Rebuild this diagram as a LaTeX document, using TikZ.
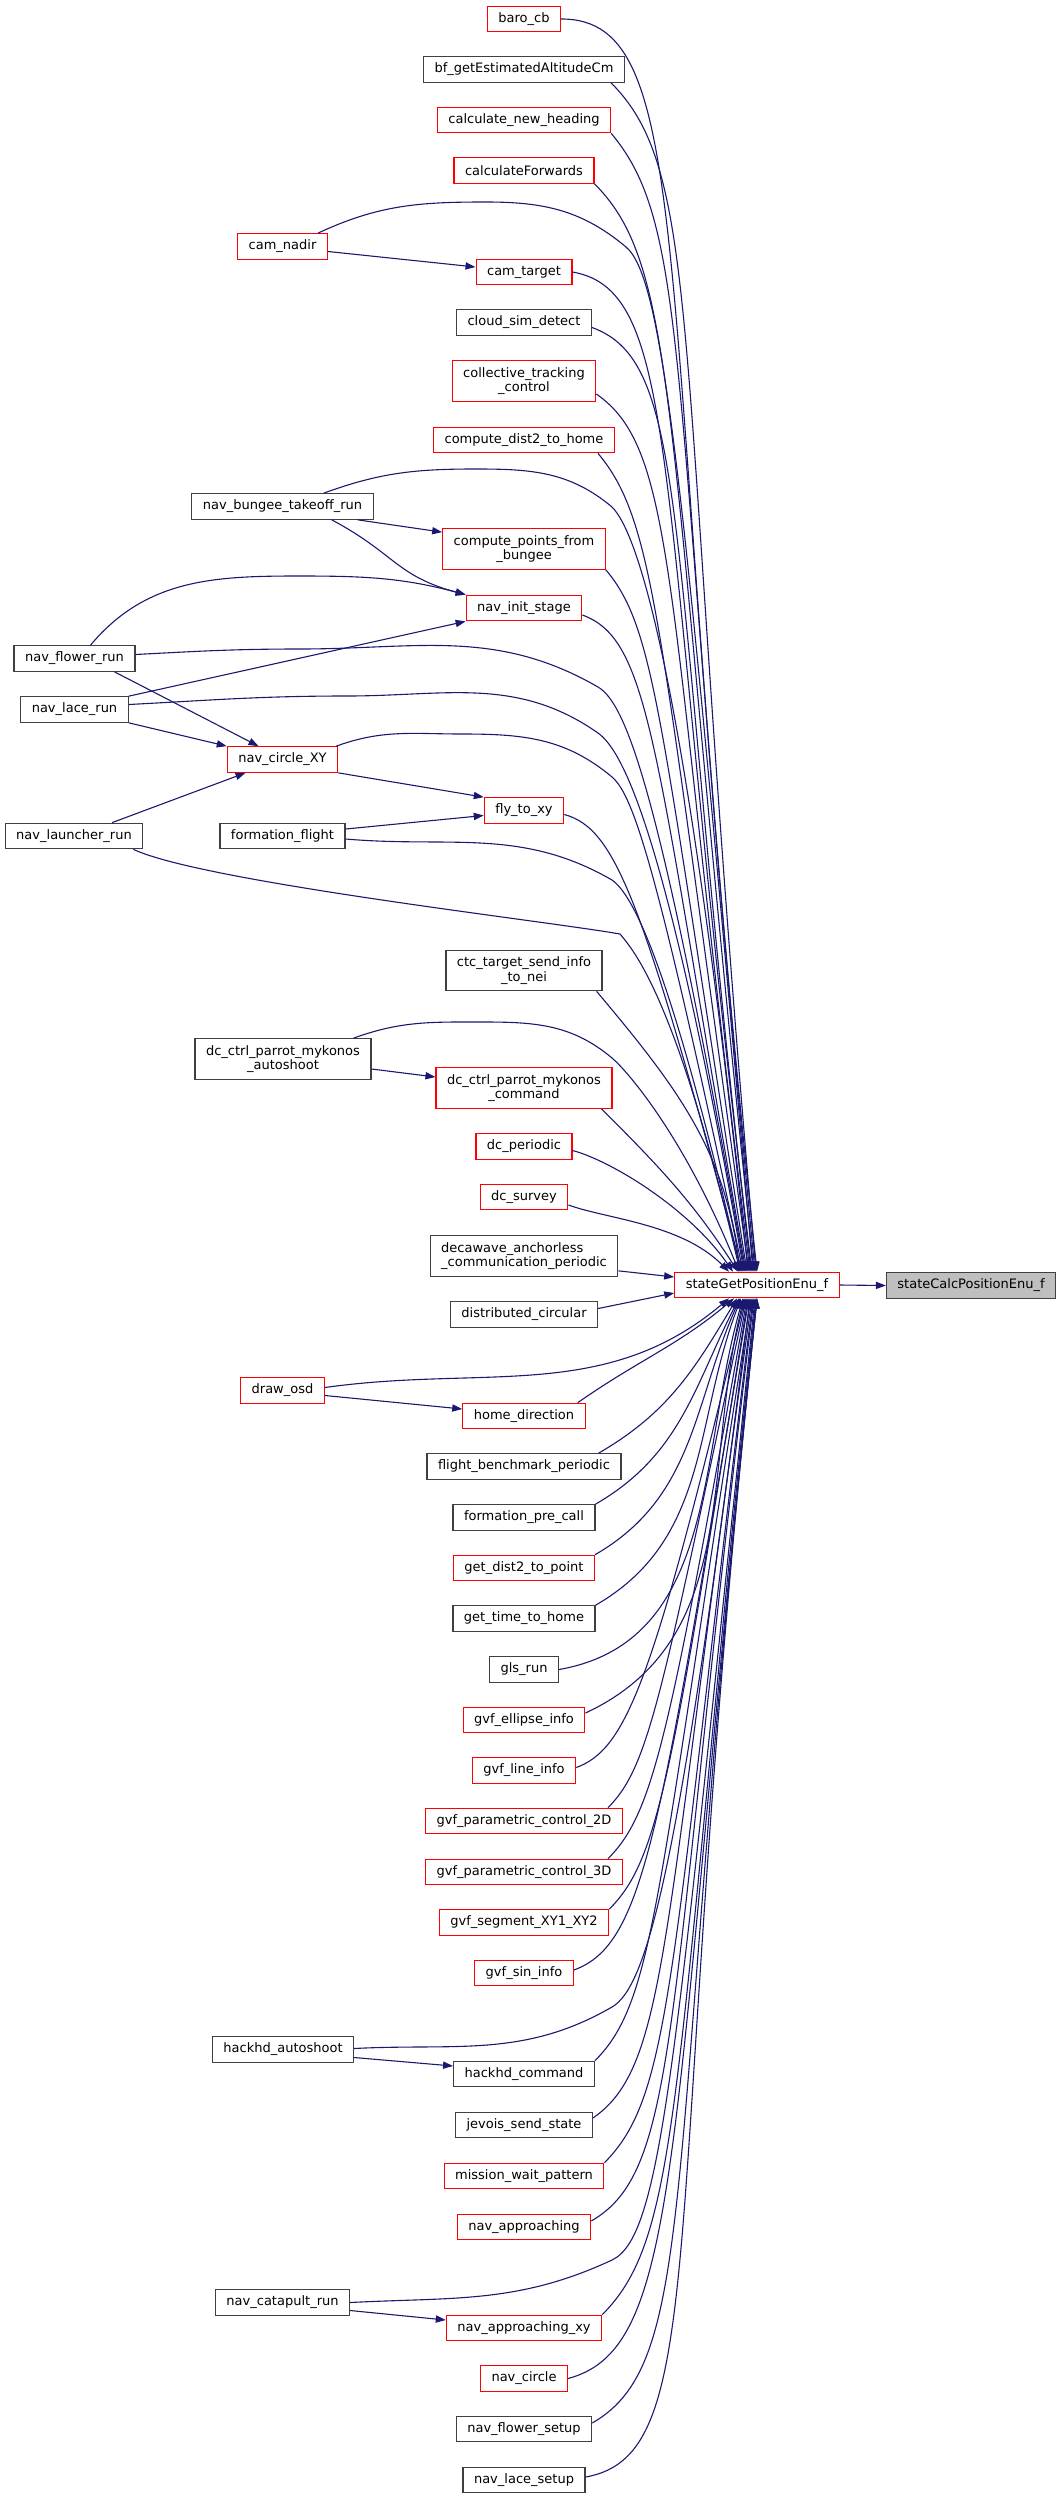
\documentclass[tikz,border=0pt]{standalone}
\usepackage{fontspec}
\setmainfont{DejaVu Sans}
\usepackage{tikz}
\usetikzlibrary{positioning,arrows.meta,calc,shapes}
\definecolor{nodered}{HTML}{FF0000}
\definecolor{nodegrey}{HTML}{404040}
\definecolor{focusgrey}{HTML}{BFBFBF}
\definecolor{edgeblue}{HTML}{191970}
\newcommand{\fnfont}{\fontsize{6.5pt}{7.2pt}\selectfont}
\tikzset{
    fn/.style = {
        draw=nodegrey,
        shape=rectangle,
        fill=white,
        minimum height=12.75pt,
        inner xsep=5.5pt,
        inner ysep=2pt,
        line width=0.6pt,
        font=\fnfont
    },
    trunc/.style = {
        fn,
        draw=nodered
    },
    focus/.style = {
        fn,
        fill=focusgrey
    },
    twoline/.style = {
        minimum height=20.25pt,
        align=center
    },
    call/.style = {
        edgeblue,
        line width=0.55pt,
        -{Triangle[length=5pt,width=3.6pt]}
    },
    longcurve/.style = {
        out looseness=0.28,
        in looseness=2
    },
}

\begin{document}
\begin{tikzpicture}[x=0.5pt,y=-0.5pt]
            \useasboundingbox (0,0) rectangle (1061,2499);

            \node[trunc] (baro) at (524,19) {baro\_cb};
            \node[fn] (bfalt) at (524,69.5) {bf\_getEstimatedAltitudeCm};
            \node[trunc] (calcheading) at (524,120) {calculate\_new\_heading};
            \node[trunc] (calcfwd) at (524,170.5) {calculateForwards};
            \node[trunc] (camnadir) at (282.5,246.5) {cam\_nadir};
            \node[trunc] (camtarget) at (524,272) {cam\_target};
            \node[fn] (cloud) at (524,322.5) {cloud\_sim\_detect};
            \node[trunc, twoline] (collective) at (524,381) {collective\_tracking\\\_control};
            \node[trunc] (dist2home) at (524,440) {compute\_dist2\_to\_home};
            \node[fn] (bungeerun) at (282.5,506.5) {nav\_bungee\_takeoff\_run};
            \node[trunc, twoline] (bungeepts) at (524,549) {compute\_points\_from\\\_bungee};
            \node[trunc] (initstage) at (524,608) {nav\_init\_stage};
            \node[fn] (flowerrun) at (74.5,658.5) {nav\_flower\_run};
            \node[fn] (lacerun) at (74.5,709.5) {nav\_lace\_run};
            \node[trunc] (circlexy) at (282.5,759.5) {nav\_circle\_XY};
            \node[trunc] (flytoxy) at (524,810.5) {fly\_to\_xy};
            \node[fn] (launcherrun) at (74,836) {nav\_launcher\_run};
            \node[fn] (formflight) at (282.5,836) {formation\_flight};
            \node[fn, twoline] (ctcsend) at (524,970.5) {ctc\_target\_send\_info\\\_to\_nei};
            \node[fn, twoline] (mykonosshoot) at (283,1059) {dc\_ctrl\_parrot\_mykonos\\\_autoshoot};
            \node[trunc, twoline] (mykonoscmd) at (524,1088) {dc\_ctrl\_parrot\_mykonos\\\_command};
            \node[trunc] (dcperiodic) at (524,1146.5) {dc\_periodic};
            \node[trunc] (dcsurvey) at (524,1197) {dc\_survey};
            \node[fn, twoline, align=left] (decawave) at (524,1256) {decawave\_anchorless\\\_communication\_periodic};
            \node[trunc] (sgp) at (757,1285) {stateGetPositionEnu\_f};
            \node[focus] (scp) at (971,1285.5) {stateCalcPositionEnu\_f};
            \node[fn] (distcirc) at (524,1314.5) {distributed\_circular};
            \node[trunc] (drawosd) at (282.5,1390.5) {draw\_osd};
            \node[trunc] (homedir) at (524,1416) {home\_direction};
            \node[fn] (benchmark) at (524,1466.5) {flight\_benchmark\_periodic};
            \node[fn] (formprecall) at (524,1517.5) {formation\_pre\_call};
            \node[trunc] (dist2point) at (524,1568) {get\_dist2\_to\_point};
            \node[fn] (timehome) at (524,1618.5) {get\_time\_to\_home};
            \node[fn] (glsrun) at (524,1669.5) {gls\_run};
            \node[trunc] (gvfellipse) at (524,1720) {gvf\_ellipse\_info};
            \node[trunc] (gvfline) at (524,1770.5) {gvf\_line\_info};
            \node[trunc] (gvftwod) at (524,1821) {gvf\_parametric\_control\_2D};
            \node[trunc] (gvfthreed) at (524,1872) {gvf\_parametric\_control\_3D};
            \node[trunc] (gvfsegment) at (524,1922.5) {gvf\_segment\_XY1\_XY2};
            \node[trunc] (gvfsin) at (524,1973) {gvf\_sin\_info};
            \node[fn] (hackshoot) at (283,2049.5) {hackhd\_autoshoot};
            \node[fn] (hackcmd) at (524,2074) {hackhd\_command};
            \node[fn] (jevois) at (524,2125) {jevois\_send\_state};
            \node[trunc] (waitpattern) at (524,2176) {mission\_wait\_pattern};
            \node[trunc] (approach) at (524,2227) {nav\_approaching};
            \node[fn] (catapult) at (282.5,2302.5) {nav\_catapult\_run};
            \node[trunc] (approachxy) at (524,2328) {nav\_approaching\_xy};
            \node[trunc] (navcircle) at (524,2378.5) {nav\_circle};
            \node[fn] (flowersetup) at (524,2429) {nav\_flower\_setup};
            \node[fn] (lacesetup) at (524,2480) {nav\_lace\_setup};

            \path[draw, call] (baro.east) to[out=0, in=96, longcurve] (sgp.north);
            \path[draw, call] ([xshift=-7pt]bfalt.south east) to[out=-45, in=95, longcurve] ([xshift=-0.5pt]sgp.north);
            \path[draw, call] (calcheading.south east) to[out=-50, in=95.5, longcurve] ([xshift=-1pt]sgp.north);
            \path[draw, call] (calcfwd.south east) to[out=-45, in=96, longcurve] ([xshift=-1.5pt]sgp.north);
            \path[draw, call] ([xshift=-5pt]camnadir.north east) to[out=25, in=180] (486,202) to[out=0, in=140] (626,247) to[out=-40, in=95, out looseness=0.12, in looseness=2] ([xshift=-2pt]sgp.north);
            \path[draw, call] (camtarget.east) to[out=-10, in=97, longcurve] ([xshift=-2.5pt]sgp.north);
            \path[draw, call] ([yshift=-2.5pt]cloud.east) to[out=-20, in=96.5, longcurve] ([xshift=-3pt]sgp.north);
            \path[draw, call] ([yshift=-6.5pt]collective.east) to[out=-35, in=97, longcurve] ([xshift=-3.5pt]sgp.north);
            \path[draw, call] ([xshift=-8.5pt]dist2home.south east) to[out=-50, in=98, longcurve] ([xshift=-4pt]sgp.north);
            \path[draw, call] ([xshift=-25pt]bungeerun.north east) to[out=20, in=180] (476,469) to[out=0, in=140] (612,507) to[out=-45, in=96, out looseness=0.12, in looseness=2] ([xshift=-4.5pt]sgp.north);
            \path[draw, call] (bungeepts.south east) to[out=-50, in=99, longcurve] ([xshift=-5pt]sgp.north);
            \path[draw, call] ([yshift=-3.5pt]initstage.east) to[out=-20, in=100, longcurve] ([xshift=-5.5pt]sgp.north);
            \path[draw, call] ([yshift=2pt]flowerrun.east) to[out=3, in=180] (300,649) to[out=0, in=150] (598,687) to[out=-30, in=100, out looseness=0.15, in looseness=2] ([xshift=-6pt]sgp.north);
            \path[draw, call] ([yshift=2.5pt]lacerun.east) to[out=3, in=180] (347,696) to[out=0, in=145] (598,733) to[out=-35, in=100, out looseness=0.15, in looseness=2] ([xshift=-6.5pt]sgp.north);
            \path[draw, call] ([xshift=-1pt]circlexy.north east) to[out=20, in=180] (462,734) to[out=0, in=140] (612,777) to[out=-40, in=102, out looseness=0.15, in looseness=2] ([xshift=-7pt]sgp.north);
            \path[draw, call] ([yshift=-2pt]flytoxy.east) to[out=-15, in=105, longcurve] ([xshift=-7.5pt]sgp.north);
            \path[draw, call] ([yshift=-1.5pt]formflight.east) to[out=-5, in=150] (612,880) to[out=-35, in=103, out looseness=0.15, in looseness=2] ([xshift=-8pt]sgp.north);
            \path[draw, call] ([xshift=-5pt]launcherrun.south east) to[out=-25, in=170, looseness=0.4] (620,934) to[out=-50, in=103, out looseness=0.15, in looseness=2] ([xshift=-8.5pt]sgp.north);
            \path[draw, call] ([xshift=-3pt]ctcsend.south east) to[out=-50, in=97] ([xshift=-8.5pt]sgp.north);
            \path[draw, call] ([xshift=-9pt]mykonosshoot.north east) to[out=20, in=180] (483,1022) to[out=0, in=140] (612,1058) to[out=-40, in=112, out looseness=0.2, in looseness=1.5] ([xshift=-9pt]sgp.north);
            \path[draw, call] ([xshift=-5.5pt]mykonoscmd.south east) to[out=-45, in=123] ([xshift=-9.5pt]sgp.north);
            \path[draw, call] ([yshift=-2pt]dcperiodic.east) to[out=-15, in=125, out looseness=0.5] ([xshift=-12pt]sgp.north);
            \path[draw, call] ([yshift=-4pt]dcsurvey.east) to[out=-20, in=135, out looseness=0.6] ([xshift=-14pt]sgp.north);
            \path[draw, call] ([yshift=3pt]decawave.south east) -- ([yshift=4pt]sgp.west);

            \path[draw, call] ([yshift=3pt]distcirc.east) -- ([yshift=-4pt]sgp.west);
            \path[draw, call] ([yshift=1.5pt]drawosd.east) to[out=8, in=220] ([xshift=-14pt]sgp.south);
            \path[draw, call] ([xshift=-4pt]homedir.north east) to[out=35, in=220] ([xshift=-11.5pt]sgp.south);
            \path[draw, call] ([xshift=-11.5pt]benchmark.north east) to[out=30, in=239] ([xshift=-10pt]sgp.south);
            \path[draw, call] (formprecall.north east) to[out=30, in=243] ([xshift=-9pt]sgp.south);
            \path[draw, call] (dist2point.north east) to[out=30, in=246] ([xshift=-8.5pt]sgp.south);
            \path[draw, call] (timehome.north east) to[out=30, in=249] ([xshift=-8pt]sgp.south);
            \path[draw, call] (glsrun.east) to[out=10, in=254] ([xshift=-7pt]sgp.south);
            \path[draw, call] ([yshift=3.5pt]gvfellipse.east) to[out=25, in=256] ([xshift=-6.5pt]sgp.south);
            \path[draw, call] ([yshift=1.5pt]gvfline.east) to[out=20, in=256.5, longcurve] ([xshift=-6pt]sgp.south);
            \path[draw, call] ([xshift=-7.5pt]gvftwod.north east) to[out=45, in=258, longcurve] ([xshift=-5.5pt]sgp.south);
            \path[draw, call] ([xshift=-7.5pt]gvfthreed.north east) to[out=45, in=260, longcurve] ([xshift=-5pt]sgp.south);
            \path[draw, call] (gvfsegment.north east) to[out=45, in=261, longcurve] ([xshift=-4.5pt]sgp.south);
            \path[draw, call] ([yshift=1.5pt]gvfsin.east) to[out=20, in=260.5, longcurve] ([xshift=-4pt]sgp.south);
            \path[draw, call] ([yshift=0.5pt]hackshoot.east) to[out=3, in=210] (612,2007) to[out=30, in=263, out looseness=0.15, in looseness=2] ([xshift=-3.5pt]sgp.south);
            \path[draw, call] (hackcmd.north east) to[out=45, in=261, longcurve] ([xshift=-3pt]sgp.south);
            \path[draw, call] ([yshift=3.5pt]jevois.east) to[out=35, in=262, longcurve] ([xshift=-2.5pt]sgp.south);
            \path[draw, call] (waitpattern.north east) to[out=45, in=263, longcurve] ([xshift=-2pt]sgp.south);
            \path[draw, call] ([yshift=3pt]approach.east) to[out=30, in=263, longcurve] ([xshift=-1.5pt]sgp.south);
            \path[draw, call] (catapult.east) to[out=3, in=205] (612,2260) to[out=25, in=264, out looseness=0.15, in looseness=2] ([xshift=-1pt]sgp.south);
            \path[draw, call] (approachxy.north east) to[out=45, in=264, longcurve] ([xshift=-0.5pt]sgp.south);
            \path[draw, call] (navcircle.east) to[out=15, in=264, longcurve] (sgp.south);
            \path[draw, call] ([yshift=3pt]flowersetup.east) to[out=30, in=264, longcurve] (sgp.south);
            \path[draw, call] ([yshift=1.5pt]lacesetup.east) to[out=10, in=264, longcurve] (sgp.south);

            \path[draw, call] ([yshift=-2.5pt]camnadir.east) -- ([yshift=2.5pt]camtarget.west);
            \path[draw, call] ([xshift=-8pt]bungeerun.south east) -- ([yshift=-2pt]bungeepts.north west);
            \path[draw, call] ([xshift=-21pt]bungeerun.south east) to[out=-28, in=165, looseness=1.2] (initstage.north west);
            \path[draw, call] ([xshift=8pt]flowerrun.north) to[out=50, in=180] (299,576) to[out=0, in=165] (initstage.north west);
            \path[draw, call] (lacerun.north east) -- (initstage.south west);
            \path[draw, call] ([xshift=20pt]flowerrun.south) -- ([xshift=-12pt]circlexy.north);
            \path[draw, call] (lacerun.south east) -- (circlexy.north west);
            \path[draw, call] (circlexy.south east) -- (flytoxy.north west);
            \path[draw, call] ([xshift=19pt]launcherrun.north) -- ([xshift=-18.5pt]circlexy.south);
            \path[draw, call] ([yshift=3.5pt]formflight.east) -- ([yshift=-2.5pt]flytoxy.west);
            \path[draw, call] ([yshift=-5pt]mykonosshoot.east) -- ([yshift=5.5pt]mykonoscmd.west);
            \path[draw, call] ([yshift=-2.5pt]drawosd.east) -- ([yshift=3.5pt]homedir.west);
            \path[draw, call] ([yshift=-4pt]hackshoot.east) -- ([yshift=4pt]hackcmd.west);
            \path[draw, call] ([yshift=-4pt]catapult.east) -- ([yshift=4pt]approachxy.west);
            \path[draw, call] (sgp.east) -- (scp.west);
        \end{tikzpicture}
\end{document}
